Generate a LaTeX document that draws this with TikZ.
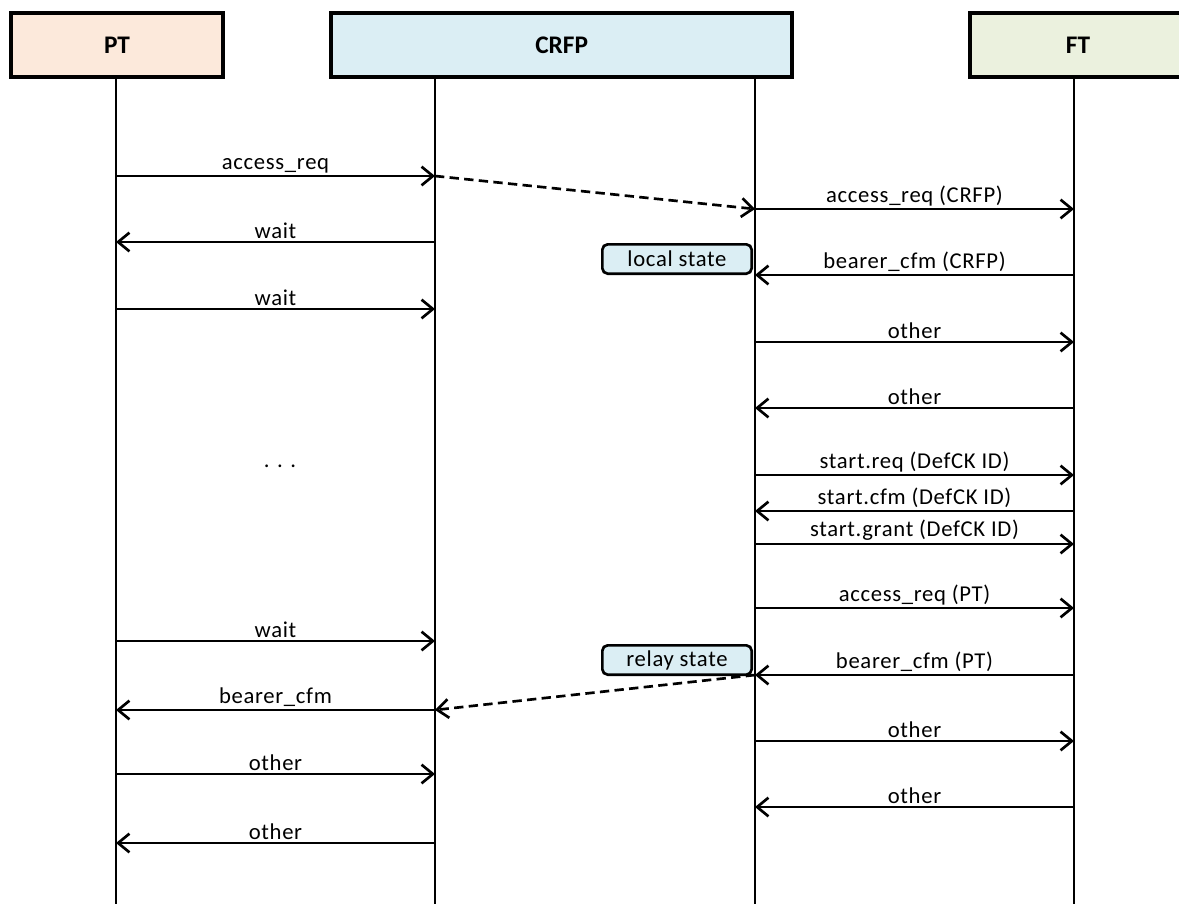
\documentclass[tikz,border=0pt]{standalone}
\usepackage{fontspec}
\setmainfont{Carlito}
\usetikzlibrary{arrows.meta}
\definecolor{ptfill}{HTML}{FCE9DB}
\definecolor{crfpfill}{HTML}{DBEEF4}
\definecolor{ftfill}{HTML}{EBF1DE}
\tikzset{
  head/.style={draw=black, line width=3pt, minimum height=48pt, inner sep=0pt, font=\fontsize{19}{22}\selectfont\bfseries},
  life/.style={line width=1.6pt},
  msg/.style={line width=2pt, -{Straight Barb[length=8.5pt,width=14pt,line width=2pt]}},
  dmsg/.style={msg, dash pattern=on 7pt off 4pt},
  lbl/.style={font=\fontsize{17}{20}\selectfont\addfontfeature{LetterSpace=3}, inner sep=1pt, above=0.5pt},
  statebox/.style={draw=black, fill=crfpfill, line width=2pt, rounded corners=4pt, minimum width=112pt, minimum height=22pt, inner sep=0pt, font=\fontsize{17}{20}\selectfont\addfontfeature{LetterSpace=3}}
}
\begin{document}
\begin{tikzpicture}[x=0.75pt,y=-0.75pt]
\useasboundingbox (0,0) rectangle (1179,904);
\clip (0,0) rectangle (1179,904);
% headers
\node[head, fill=ptfill, minimum width=159pt, anchor=north west] (pt) at (9,11) {PT};
\node[head, fill=crfpfill, minimum width=346pt, anchor=north west] (crfp) at (329,11) {CRFP};
\node[head, fill=ftfill, minimum width=190pt, anchor=north west] (ft) at (968,11) {\hspace*{-28pt}FT};
% lifelines
\coordinate (l1t) at (116,77); \coordinate (l1b) at (116,904);
\coordinate (l2t) at (435,77); \coordinate (l2b) at (435,904);
\coordinate (l3t) at (755,77); \coordinate (l3b) at (755,904);
\coordinate (l4t) at (1074,77); \coordinate (l4b) at (1074,904);
\draw[life] (l1t) -- (l1b);
\draw[life] (l2t) -- (l2b);
\draw[life] (l3t) -- (l3b);
\draw[life] (l4t) -- (l4b);
% state boxes
\node[statebox, anchor=south east] (loc) at (753,275) {local state};
\node[statebox, anchor=south east] (rel) at (753,676) {relay state};
% message endpoints
\foreach \n/\y in {a/176,b/209,c/242,d/275,e/309,f/342,g/408,h/475,i/511,j/544,k/608,l/641,m/675,n/710,r/741,o/774,p/807,q/843}{
  \coordinate (\n1) at (116,\y);
  \coordinate (\n2) at (435,\y);
  \coordinate (\n3) at (755,\y);
  \coordinate (\n4) at (1074,\y);
}
\draw[msg] (a1) -- node[lbl]{access\_req} (a2);
\draw[dmsg] (a2) -- (b3);
\draw[msg] (b3) -- node[lbl]{access\_req (CRFP)} (b4);
\draw[msg] (c2) -- node[lbl]{wait} (c1);
\draw[msg] (d4) -- node[lbl]{bearer\_cfm (CRFP)} (d3);
\draw[msg] (e1) -- node[lbl]{wait} (e2);
\draw[msg] (f3) -- node[lbl]{other} (f4);
\draw[msg] (g4) -- node[lbl]{other} (g3);
\node[font=\fontsize{17}{20}\selectfont] (dots) at (280,466) {.\,\,.\,\,.};
\draw[msg] (h3) -- node[lbl]{start.req (DefCK ID)} (h4);
\draw[msg] (i4) -- node[lbl]{start.cfm (DefCK ID)} (i3);
\draw[msg] (j3) -- node[lbl]{start.grant (DefCK ID)} (j4);
\draw[msg] (k3) -- node[lbl]{access\_req (PT)} (k4);
\draw[msg] (l1) -- node[lbl]{wait} (l2);
\draw[msg] (m4) -- node[lbl]{bearer\_cfm (PT)} (m3);
\draw[dmsg] (m3) -- (n2);
\draw[msg] (n2) -- node[lbl]{bearer\_cfm} (n1);
\draw[msg] (r3) -- node[lbl]{other} (r4);
\draw[msg] (o1) -- node[lbl]{other} (o2);
\draw[msg] (p4) -- node[lbl]{other} (p3);
\draw[msg] (q2) -- node[lbl]{other} (q1);
\end{tikzpicture}
\end{document}
